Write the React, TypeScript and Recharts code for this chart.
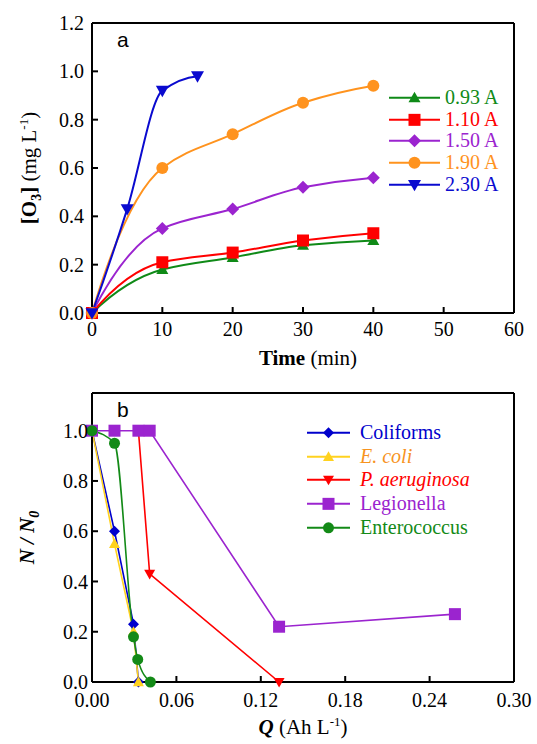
import React from 'react';
import { LineChart, Line, XAxis, YAxis, Legend } from 'recharts';

// ---------- panel a: ozone concentration vs time ----------
const timeTicks = [0, 10, 20, 30, 40, 50, 60];
const o3Ticks = [0, 0.2, 0.4, 0.6, 0.8, 1.0, 1.2];

const o3At093 = [
  { t: 0, c: 0 }, { t: 10, c: 0.18 }, { t: 20, c: 0.23 }, { t: 30, c: 0.28 }, { t: 40, c: 0.3 },
];
const o3At110 = [
  { t: 0, c: 0 }, { t: 10, c: 0.21 }, { t: 20, c: 0.25 }, { t: 30, c: 0.3 }, { t: 40, c: 0.33 },
];
const o3At150 = [
  { t: 0, c: 0 }, { t: 10, c: 0.35 }, { t: 20, c: 0.43 }, { t: 30, c: 0.52 }, { t: 40, c: 0.56 },
];
const o3At190 = [
  { t: 0, c: 0 }, { t: 10, c: 0.6 }, { t: 20, c: 0.74 }, { t: 30, c: 0.87 }, { t: 40, c: 0.94 },
];
const o3At230 = [
  { t: 0, c: 0 }, { t: 5, c: 0.43 }, { t: 10, c: 0.92 }, { t: 15, c: 0.98 },
];

// ---------- panel b: survival ratio vs charge ----------
const chargeTicks = [0, 0.06, 0.12, 0.18, 0.24, 0.3];
const ratioTicks = [0, 0.2, 0.4, 0.6, 0.8, 1.0];

const coliforms = [
  { q: 0, n: 1.0 }, { q: 0.016, n: 0.6 }, { q: 0.0295, n: 0.23 }, { q: 0.033, n: 0.0 },
];
const eColi = [
  { q: 0, n: 1.0 }, { q: 0.016, n: 0.55 }, { q: 0.0295, n: 0.2 }, { q: 0.033, n: 0.0 },
];
const pAeruginosa = [
  { q: 0.033, n: 1.0 }, { q: 0.041, n: 0.43 }, { q: 0.133, n: 0.0 },
];
const legionella = [
  { q: 0, n: 1.0 }, { q: 0.016, n: 1.0 }, { q: 0.033, n: 1.0 }, { q: 0.041, n: 1.0 },
  { q: 0.133, n: 0.22 }, { q: 0.258, n: 0.27 },
];
const enterococcus = [
  { q: 0, n: 1.0 }, { q: 0.016, n: 0.95 }, { q: 0.0295, n: 0.18 }, { q: 0.0325, n: 0.09 },
  { q: 0.0415, n: 0.0 },
];

// Smooth interpolating curve: harmonic-mean tangents inside, parabolic end conditions.
function smoothCurve(context: any) {
  let xs: number[] = [];
  let ys: number[] = [];
  const endTangent = (s: number, tn: number) => {
    if (s === 0) return 0;
    const v = 2 * s - tn;
    const r = v / s;
    if (r < 0) return 0;
    if (r > 3) return 3 * s;
    return v;
  };
  return {
    areaStart() {},
    areaEnd() {},
    lineStart() {
      xs = [];
      ys = [];
    },
    point(x: number, y: number) {
      xs.push(+x);
      ys.push(+y);
    },
    lineEnd() {
      const n = xs.length;
      if (n === 0) return;
      context.moveTo(xs[0], ys[0]);
      if (n === 1) return;
      if (n === 2) {
        context.lineTo(xs[1], ys[1]);
        return;
      }
      const s: number[] = [];
      for (let i = 0; i < n - 1; i++) s.push((ys[i + 1] - ys[i]) / (xs[i + 1] - xs[i] || 1));
      const t: number[] = new Array(n).fill(0);
      for (let i = 1; i < n - 1; i++) {
        t[i] = s[i - 1] * s[i] > 0 ? (2 * s[i - 1] * s[i]) / (s[i - 1] + s[i]) : 0;
      }
      t[0] = endTangent(s[0], t[1]);
      t[n - 1] = endTangent(s[n - 2], t[n - 2]);
      for (let i = 0; i < n - 1; i++) {
        const h = xs[i + 1] - xs[i];
        context.bezierCurveTo(
          xs[i] + h / 3,
          ys[i] + (t[i] * h) / 3,
          xs[i + 1] - h / 3,
          ys[i + 1] - (t[i + 1] * h) / 3,
          xs[i + 1],
          ys[i + 1],
        );
      }
    },
  };
}

type Shape = 'up' | 'down' | 'square' | 'diamond' | 'circle';

type Series = {
  name: string;
  data: { [k: string]: number }[];
  color: string;
  textColor: string;
  shape: Shape;
  size: number;
  curve: any;
  italic?: boolean;
};

const seriesA: Series[] = [
  { name: '0.93 A', data: o3At093, color: '#0f8a17', textColor: '#0f8a17', shape: 'up', size: 12, curve: smoothCurve },
  { name: '1.10 A', data: o3At110, color: '#ff0000', textColor: '#ff0000', shape: 'square', size: 12, curve: smoothCurve },
  { name: '1.50 A', data: o3At150, color: '#9b24cf', textColor: '#9b24cf', shape: 'diamond', size: 13, curve: smoothCurve },
  { name: '1.90 A', data: o3At190, color: '#ff931e', textColor: '#ff931e', shape: 'circle', size: 12, curve: smoothCurve },
  { name: '2.30 A', data: o3At230, color: '#0a0acf', textColor: '#0a0acf', shape: 'down', size: 13, curve: smoothCurve },
];

const seriesB: Series[] = [
  { name: 'Coliforms', data: coliforms, color: '#0000cc', textColor: '#0000cc', shape: 'diamond', size: 11, curve: 'linear' },
  { name: 'E. coli', data: eColi, color: '#ffd21f', textColor: '#f7931e', shape: 'up', size: 11, curve: 'linear', italic: true },
  { name: 'P. aeruginosa', data: pAeruginosa, color: '#ff0000', textColor: '#ff0000', shape: 'down', size: 11, curve: 'linear', italic: true },
  { name: 'Legionella', data: legionella, color: '#9b24cf', textColor: '#9b24cf', shape: 'square', size: 12, curve: 'linear' },
  { name: 'Enterococcus', data: enterococcus, color: '#138a17', textColor: '#138a17', shape: 'circle', size: 11, curve: 'monotone' },
];

const SERIF = '"Liberation Serif", "Times New Roman", serif';
const SANS = '"Liberation Sans", Arial, sans-serif';

const W = 537;
const H = 372;
const LEFT = 92;
const RIGHT = 22;

function Marker({ cx, cy, shape, color, size }: { cx: number; cy: number; shape: Shape; color: string; size: number }) {
  if (cx == null || cy == null || isNaN(cx) || isNaN(cy)) return null;
  const s = size / 2;
  switch (shape) {
    case 'circle':
      return <circle cx={cx} cy={cy} r={s} fill={color} />;
    case 'square':
      return <rect x={cx - s} y={cy - s} width={size} height={size} fill={color} />;
    case 'diamond':
      return <polygon points={`${cx},${cy - s} ${cx + s},${cy} ${cx},${cy + s} ${cx - s},${cy}`} fill={color} />;
    case 'up':
      return <polygon points={`${cx},${cy - s} ${cx + s},${cy + s * 0.75} ${cx - s},${cy + s * 0.75}`} fill={color} />;
    case 'down':
      return <polygon points={`${cx},${cy + s} ${cx + s},${cy - s * 0.75} ${cx - s},${cy - s * 0.75}`} fill={color} />;
  }
  return null;
}

function LegendBox({ items, rowH, lineW, gap, fontSize }: { items: Series[]; rowH: number; lineW: number; gap: number; fontSize: number }) {
  return (
    <div>
      {items.map((s) => (
        <div key={s.name} style={{ display: 'flex', alignItems: 'center', height: rowH }}>
          <svg width={lineW} height={rowH} style={{ display: 'block', overflow: 'visible' }}>
            <line x1={0} y1={rowH / 2} x2={lineW} y2={rowH / 2} stroke={s.color} strokeWidth={2} />
            <Marker cx={lineW / 2} cy={rowH / 2} shape={s.shape} color={s.color} size={s.size} />
          </svg>
          <span
            style={{
              marginLeft: gap,
              fontFamily: SERIF,
              fontSize,
              fontStyle: s.italic ? 'italic' : 'normal',
              color: s.textColor,
              whiteSpace: 'nowrap',
              lineHeight: `${rowH}px`,
            }}
          >
            {s.name}
          </span>
        </div>
      ))}
    </div>
  );
}

const tickStyle = { fontFamily: SERIF, fontSize: 20, fill: '#000' };
const axisLine = { stroke: '#000', strokeWidth: 2 };
const tickLine = { stroke: '#000', strokeWidth: 2 };

function PanelA() {
  const top = 22;
  const bottom = 59;
  const plotH = H - top - bottom - 1;
  return (
    <LineChart width={W} height={H} margin={{ top, right: RIGHT, bottom: 0, left: 0 }}>
      <XAxis
        xAxisId="b"
        dataKey="t"
        type="number"
        domain={[0, 60]}
        ticks={timeTicks}
        allowDuplicatedCategory={false}
        height={bottom}
        tick={tickStyle}
        tickSize={-6}
        tickMargin={15}
        axisLine={axisLine}
        tickLine={tickLine}
        label={{
          content: () => (
            <text x={308} y={H - bottom + 52} textAnchor="middle" fontFamily={SERIF} fontSize={21} fill="#000">
              <tspan fontWeight="bold">Time</tspan>
              <tspan> (min)</tspan>
            </text>
          ),
        }}
      />
      <XAxis
        xAxisId="t"
        orientation="top"
        type="number"
        domain={[0, 60]}
        ticks={timeTicks}
        height={1}
        tick={false}
        tickSize={-6}
        axisLine={axisLine}
        tickLine={tickLine}
        label={{
          content: () => (
            <text x={117} y={47} fontFamily={SANS} fontSize={21} fill="#000">a</text>
          ),
        }}
      />
      <YAxis
        yAxisId="l"
        type="number"
        domain={[0, 1.2]}
        ticks={o3Ticks}
        width={LEFT}
        tick={tickStyle}
        tickFormatter={(v: number) => v.toFixed(1)}
        tickSize={-6}
        tickMargin={14}
        axisLine={axisLine}
        tickLine={tickLine}
        label={{
          content: () => {
            const x = 36;
            const y = top + 1 + plotH / 2;
            return (
              <text
                x={x}
                y={y}
                transform={`rotate(-90, ${x}, ${y})`}
                textAnchor="middle"
                fontFamily={SERIF}
                fontSize={21}
                fill="#000"
              >
                <tspan fontWeight="bold">[O</tspan>
                <tspan fontWeight="bold" fontSize={14} dy={5}>3</tspan>
                <tspan fontWeight="bold" dy={-5}>]</tspan>
                <tspan> (mg L</tspan>
                <tspan fontSize={13} dy={-8}>-1</tspan>
                <tspan dy={8}>)</tspan>
              </text>
            );
          },
        }}
      />
      <YAxis
        yAxisId="r"
        orientation="right"
        type="number"
        domain={[0, 1.2]}
        ticks={o3Ticks}
        width={1}
        tick={false}
        tickSize={-6}
        axisLine={axisLine}
        tickLine={tickLine}
      />
      {seriesA.map((s) => (
        <Line
          key={s.name}
          xAxisId="b"
          yAxisId="l"
          data={s.data}
          dataKey="c"
          name={s.name}
          type={s.curve}
          stroke={s.color}
          strokeWidth={2}
          isAnimationActive={false}
          dot={(p: any) => <Marker key={`${s.name}-${p.index}`} cx={p.cx} cy={p.cy} shape={s.shape} color={s.color} size={s.size} />}
          activeDot={false}
        />
      ))}
      <Legend
        layout="vertical"
        align="center"
        verticalAlign="middle"
        wrapperStyle={{ left: 389, top: 87, width: 'auto', height: 'auto' }}
        content={() => <LegendBox items={seriesA} rowH={21.7} lineW={51} gap={5} fontSize={20} />}
      />
    </LineChart>
  );
}

function PanelB() {
  const top = 20;
  const bottom = 62;
  return (
    <LineChart width={W} height={H} margin={{ top, right: RIGHT, bottom: 0, left: 0 }}>
      <XAxis
        xAxisId="b"
        dataKey="q"
        type="number"
        domain={[0, 0.3]}
        ticks={chargeTicks}
        allowDuplicatedCategory={false}
        height={bottom}
        tick={tickStyle}
        tickFormatter={(v: number) => v.toFixed(2)}
        tickSize={-6}
        tickMargin={17}
        axisLine={axisLine}
        tickLine={tickLine}
        label={{
          content: () => (
            <text x={303} y={H - bottom + 52} textAnchor="middle" fontFamily={SERIF} fontSize={21} fill="#000">
              <tspan fontWeight="bold" fontStyle="italic">Q</tspan>
              <tspan> (Ah L</tspan>
              <tspan fontSize={13} dy={-8}>-1</tspan>
              <tspan dy={8}>)</tspan>
            </text>
          ),
        }}
      />
      <XAxis
        xAxisId="t"
        orientation="top"
        type="number"
        domain={[0, 0.3]}
        ticks={chargeTicks}
        height={1}
        tick={false}
        tickSize={-6}
        axisLine={axisLine}
        tickLine={tickLine}
        label={{
          content: () => (
            <text x={117} y={45} fontFamily={SANS} fontSize={21} fill="#000">b</text>
          ),
        }}
      />
      <YAxis
        yAxisId="l"
        type="number"
        domain={[0, 1.15]}
        ticks={ratioTicks}
        width={LEFT}
        tick={tickStyle}
        tickFormatter={(v: number) => v.toFixed(1)}
        tickSize={-6}
        tickMargin={10}
        axisLine={axisLine}
        tickLine={tickLine}
        label={{
          content: () => {
            const x = 34;
            const y = (top + 1 + H - bottom) / 2;
            return (
              <text
                x={x}
                y={y}
                transform={`rotate(-90, ${x}, ${y})`}
                textAnchor="middle"
                fontFamily={SERIF}
                fontSize={21}
                fontWeight="bold"
                fontStyle="italic"
                fill="#000"
              >
                <tspan>N / N</tspan>
                <tspan fontSize={14} dy={5}>0</tspan>
              </text>
            );
          },
        }}
      />
      <YAxis
        yAxisId="r"
        orientation="right"
        type="number"
        domain={[0, 1.15]}
        ticks={ratioTicks}
        width={1}
        tick={false}
        tickSize={-6}
        axisLine={axisLine}
        tickLine={tickLine}
      />
      {seriesB.map((s) => (
        <Line
          key={s.name}
          xAxisId="b"
          yAxisId="l"
          data={s.data}
          dataKey="n"
          name={s.name}
          type={s.curve}
          stroke={s.color}
          strokeWidth={1.6}
          isAnimationActive={false}
          dot={(p: any) => <Marker key={`${s.name}-${p.index}`} cx={p.cx} cy={p.cy} shape={s.shape} color={s.color} size={s.size} />}
          activeDot={false}
        />
      ))}
      <Legend
        layout="vertical"
        align="center"
        verticalAlign="middle"
        wrapperStyle={{ left: 307, top: 49, width: 'auto', height: 'auto' }}
        content={() => <LegendBox items={seriesB} rowH={23.7} lineW={43} gap={10} fontSize={20} />}
      />
    </LineChart>
  );
}

export default function App() {
  return (
    <div style={{ position: 'absolute', left: 0, top: 0, width: W, height: 2 * H, background: '#fff' }}>
      <PanelA />
      <PanelB />
    </div>
  );
}
